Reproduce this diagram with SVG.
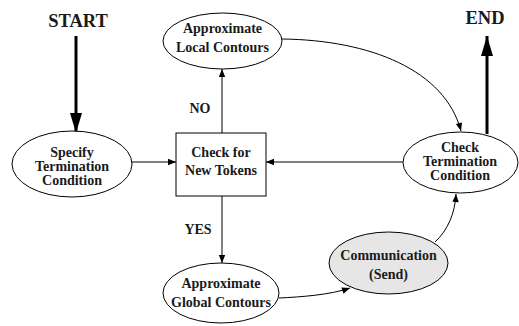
<svg xmlns="http://www.w3.org/2000/svg" width="519" height="326" viewBox="0 0 519 326">
<defs>
<style>
.n{fill:#fff;stroke:#000;stroke-width:1}
.t{font-family:"Liberation Serif","Times New Roman",serif;font-weight:700;font-size:14px;text-anchor:middle;fill:#1a1a1a}
.big{font-size:18.5px}
.e{fill:none;stroke:#000;stroke-width:1}
.thick{fill:none;stroke:#000;stroke-width:3}
</style>
<marker id="a" viewBox="0 0 10 10" refX="10" refY="5" markerWidth="9" markerHeight="8" markerUnits="userSpaceOnUse" orient="auto"><path d="M0,1 L10,5 L0,9 Z" fill="#000"/></marker>
<marker id="ab" viewBox="0 0 20 12" refX="20" refY="6" markerWidth="20" markerHeight="12" markerUnits="userSpaceOnUse" orient="auto"><path d="M0,0 L20,6 L0,12 Z" fill="#000"/></marker>
</defs>
<rect width="519" height="326" fill="#fff"/>
<text class="t big" x="78" y="27">START</text>
<text class="t big" x="485" y="24">END</text>
<g id="connectors">
<path class="thick" d="M76,36 L76,133" marker-end="url(#ab)"/>
<path class="thick" d="M487,134 L487,36" marker-end="url(#ab)"/>
<path class="e" d="M132,162 L176,162" marker-end="url(#a)"/>
<path class="e" d="M403,162 L266,162" marker-end="url(#a)"/>
<path class="e" d="M222,133 L222,69" marker-end="url(#a)"/>
<path class="e" d="M222,196 L222,263" marker-end="url(#a)"/>
<path class="e" d="M282,39 C370,40 445,70 461,131" marker-end="url(#a)"/>
<path class="e" d="M279,298 C300,297 330,295 350,288" marker-end="url(#a)"/>
<path class="e" d="M435,242 C448,230 455,213 456,194" marker-end="url(#a)"/>
<text class="t" x="200" y="113">NO</text>
<text class="t" x="198" y="234">YES</text>
</g>
<g id="specify">
<ellipse class="n" cx="72" cy="164" rx="60" ry="33"/>
<text class="t" x="72" y="157">Specify</text>
<text class="t" x="72" y="171">Termination</text>
<text class="t" x="72" y="185">Condition</text>
</g>
<g id="check-tokens">
<rect class="n" x="176" y="133" width="90" height="63"/>
<text class="t" x="221" y="157">Check for</text>
<text class="t" x="221" y="175">New Tokens</text>
</g>
<g id="local">
<ellipse class="n" cx="222.5" cy="41" rx="59.5" ry="28"/>
<text class="t" x="222.5" y="33">Approximate</text>
<text class="t" x="222.5" y="52">Local Contours</text>
</g>
<g id="check-term">
<ellipse class="n" cx="460.5" cy="162.5" rx="57.5" ry="30.5"/>
<text class="t" x="460" y="152">Check</text>
<text class="t" x="460" y="166">Termination</text>
<text class="t" x="460" y="180">Condition</text>
</g>
<g id="global">
<ellipse class="n" cx="221" cy="293" rx="58" ry="30"/>
<text class="t" x="221" y="288">Approximate</text>
<text class="t" x="221" y="307">Global Contours</text>
</g>
<g id="comm">
<ellipse class="n" cx="388.5" cy="263" rx="59.5" ry="31" style="fill:#e6e6e6"/>
<text class="t" x="388.5" y="260">Communication</text>
<text class="t" x="388.5" y="279">(Send)</text>
</g>
</svg>
